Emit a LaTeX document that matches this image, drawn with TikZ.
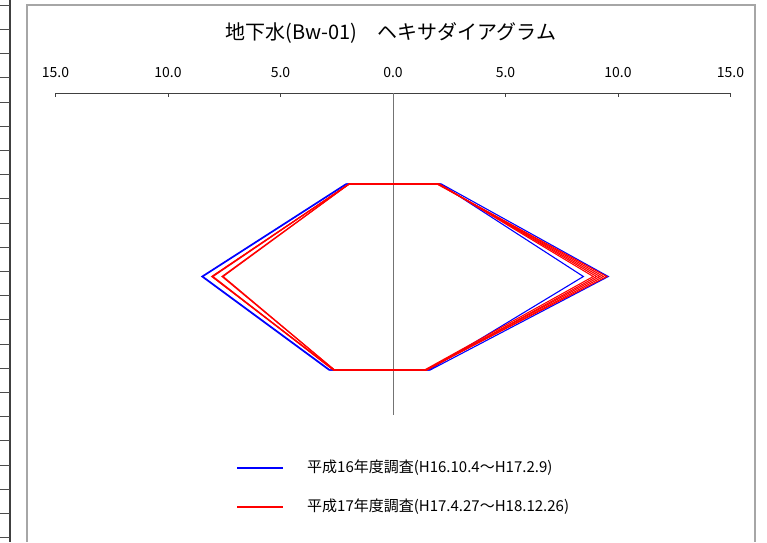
\documentclass[tikz,border=0pt]{standalone}
\usepackage{fontspec}
\setmainfont{Noto Sans CJK JP}
\usetikzlibrary{calc}

\tikzset{
  hexa/.style={line width=1.1pt, line join=miter},
  ticklabel/.style={font=\fontsize{14}{16}\selectfont, inner sep=0pt},
  legendtext/.style={font=\fontsize{15}{18}\selectfont, anchor=west, inner sep=0pt}
}

\begin{document}
\begin{tikzpicture}[x=1pt,y=-1pt]
\useasboundingbox (0,0) rectangle (767,542);
  \coordinate (O) at (393,93);
\coordinate (bot) at (393,415);
% sheet cells on the left
\draw[line width=2pt, black!75] (10,0) -- (10,542);
\foreach \i in {0,...,22}
  \draw[black!70] (0,5+24.2*\i) -- (10,5+24.2*\i);
% chart frame
\draw[black!35, line width=1.2pt] (27,542) -- (27,5) -- (755,5) -- (755,542);
\node[font=\fontsize{20}{24}\selectfont] (title) at (391,33) {地下水(Bw-01)　ヘキサダイアグラム};
% axis
\draw[black!75] (55,93) -- (730.5,93);
\foreach \v/\t in {-15/15.0,-10/10.0,-5/5.0,0/0.0,5/5.0,10/10.0,15/15.0}{
  \draw[black!75] (393+22.5*\v,93) -- ++(0,4);
  \node[ticklabel] at (393+22.5*\v,73) {\t};
}
\draw[black!55] (O) -- (bot);
% NaK Ca Mg | Cl HCO3 SO4
\foreach \c/\a/\b/\m/\d/\e/\f in {
  blue/2.1/8.5/2.85/2.15/9.57/1.65,
  blue/2.05/8.45/2.8/2.1/8.46/1.6,
  red/1.95/8.05/2.6/1.95/9.5/1.45,
  red/1.95/8.0/2.65/2.0/9.35/1.5,
  red/1.95/7.6/2.6/2.0/9.2/1.45,
  red/1.95/8.05/2.65/2.05/9.05/1.5,
  red/1.95/7.55/2.6/2.05/8.9/1.4}
  \draw[hexa,\c] (393-22.5*\a,184) -- (393-22.5*\b,276.5) -- (393-22.5*\m,370)
     -- (393+22.5*\f,370) -- (393+22.5*\e,276.5) -- (393+22.5*\d,184) -- cycle;
% legend
\coordinate (l1) at (237,468);
\coordinate (l2) at (237,507);
\draw[hexa,blue] (l1) -- ++(46,0);
\draw[hexa,red] (l2) -- ++(46,0);
\node[legendtext] (t1) at (307,468) {平成16年度調査(H16.10.4～H17.2.9)};
\node[legendtext] (t2) at (307,507) {平成17年度調査(H17.4.27～H18.12.26)};
\end{tikzpicture}
\end{document}
